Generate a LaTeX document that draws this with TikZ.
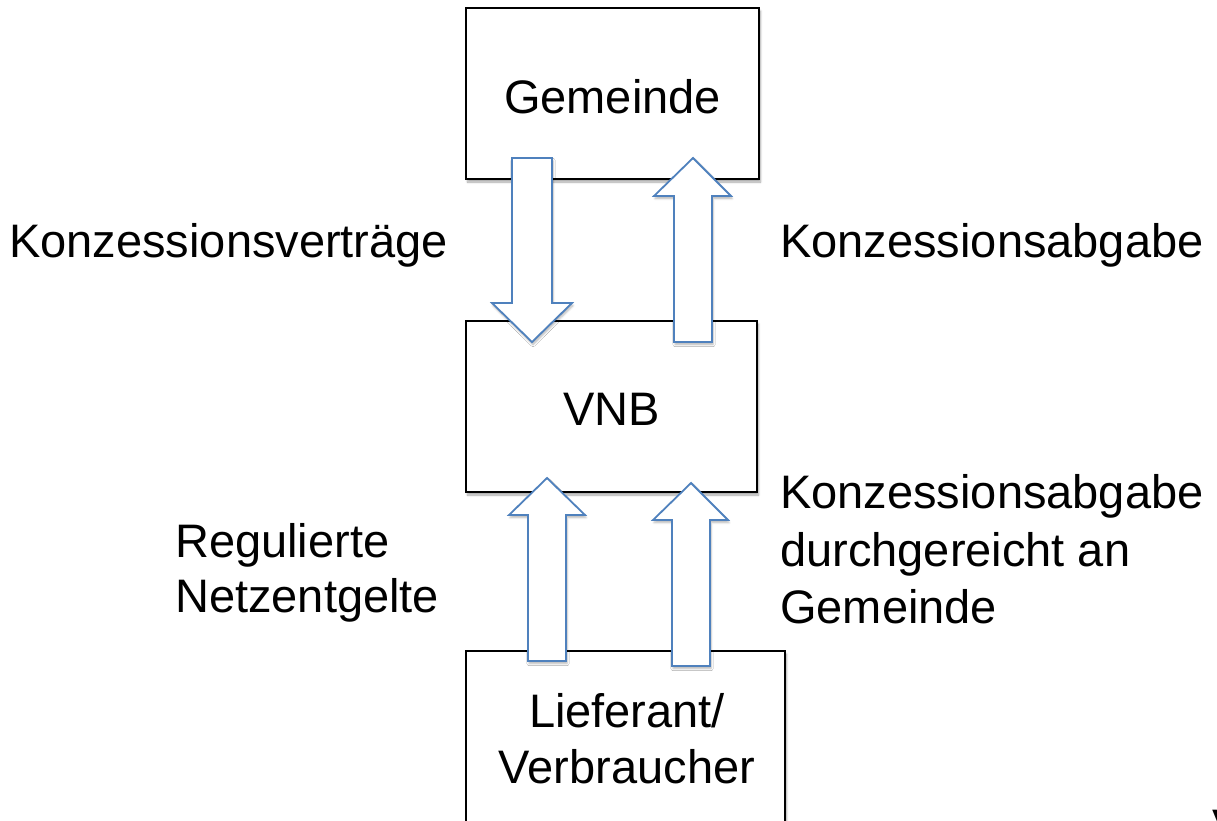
\documentclass[tikz,border=0pt]{standalone}
\usepackage{fontspec}
\setmainfont{Liberation Sans}
\usetikzlibrary{shadows.blur}
\definecolor{arrowblue}{RGB}{79,129,189}
\begin{document}
\begin{tikzpicture}[x=1pt,y=-1pt,
  box/.style={draw=black,line width=1.6pt,fill=white,
    blur shadow={shadow xshift=1.5pt,shadow yshift=-3pt,shadow blur steps=6,shadow opacity=35}},
  blockarrow/.style={draw=arrowblue,line width=1.8pt,fill=white,line join=miter,
    blur shadow={shadow xshift=1pt,shadow yshift=-2.5pt,shadow blur steps=5,shadow opacity=30}},
  txt/.style={font=\fontsize{47}{57}\selectfont,inner sep=0pt,anchor=base},
  lbl/.style={font=\fontsize{47}{57}\selectfont,inner sep=0pt,anchor=base west}]
\useasboundingbox (0,0) rectangle (1217,820);
% boxes
\path[box] (466,8) rectangle (759,179);
\path[box] (466,321) rectangle (757,492);
\path[box] (466,651) rectangle (785,840);
\node[txt] (gemeinde) at (612.5,113) {Gemeinde};
\node[txt] (vnb) at (611.5,425) {VNB};
\node[txt] (lief1) at (627,727) {Lieferant/};
\node[txt] (lief2) at (627,783) {Verbraucher};
% block arrows
\path[blockarrow] (512,158) -- (552,158) -- (552,303) -- (572,303) -- (532,342) -- (492,303) -- (512,303) -- cycle;
\path[blockarrow] (674,342) -- (712,342) -- (712,196) -- (731,196) -- (693,158) -- (654,196) -- (674,196) -- cycle;
\path[blockarrow] (528,661) -- (566,661) -- (566,515) -- (585,515) -- (547,478) -- (509,515) -- (528,515) -- cycle;
\path[blockarrow] (672,666) -- (710,666) -- (710,520) -- (728,520) -- (691,483) -- (653,520) -- (672,520) -- cycle;
% labels
\node[lbl] (kv) at (9,257) {Konzessionsverträge};
\node[lbl] (ka) at (780,257) {Konzessionsabgabe};
\node[lbl] (reg1) at (175,557) {Regulierte};
\node[lbl] (reg2) at (175,612) {Netzentgelte};
\node[lbl] (kd1) at (780,508) {Konzessionsabgabe};
\node[lbl] (kd2) at (780,566) {durchgereicht an};
\node[lbl] (kd3) at (780,623) {Gemeinde};
\node[lbl] (v) at (1212,842) {V};
\end{tikzpicture}
\end{document}
